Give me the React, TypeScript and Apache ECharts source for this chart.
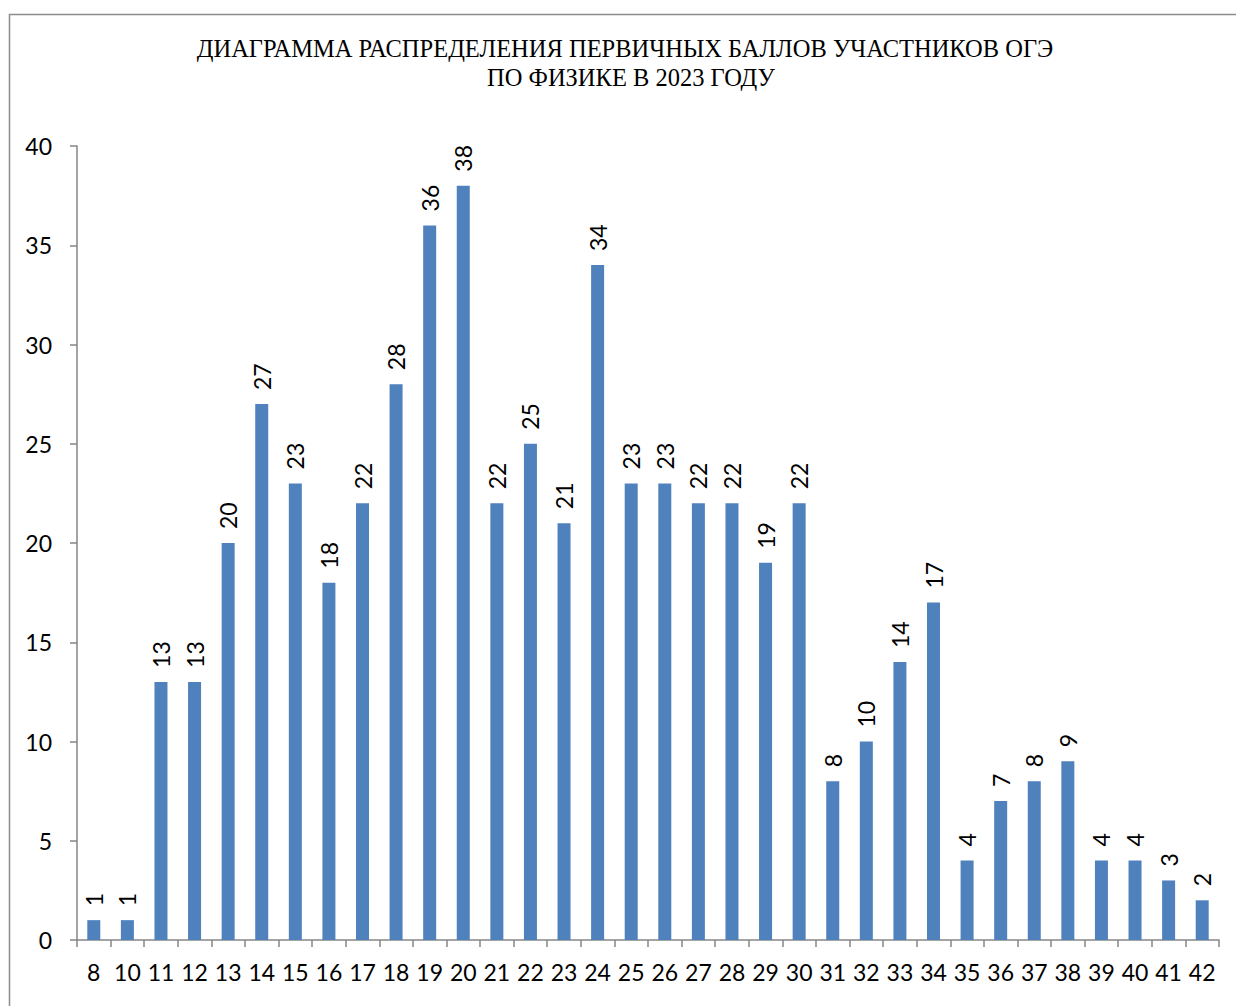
import React, { useEffect, useRef } from "react";
import * as echarts from "echarts";

const categories = ["8","10","11","12","13","14","15","16","17","18","19","20","21","22","23","24","25","26","27","28","29","30","31","32","33","34","35","36","37","38","39","40","41","42"];
const values = [1,1,13,13,20,27,23,18,22,28,36,38,22,25,21,34,23,23,22,22,19,22,8,10,14,17,4,7,8,9,4,4,3,2];
const titleLines = ["ДИАГРАММА РАСПРЕДЕЛЕНИЯ ПЕРВИЧНЫХ БАЛЛОВ УЧАСТНИКОВ ОГЭ", "ПО ФИЗИКЕ В 2023 ГОДУ"];

export default function App() {
  const ref = useRef<HTMLDivElement>(null);
  useEffect(() => {
    const chart = echarts.init(ref.current!, null, { renderer: "svg" });
    const labelFont = "Lato, 'Liberation Sans', sans-serif";
    chart.setOption({
      animation: false,
      backgroundColor: "#ffffff",
      graphic: [
        { type: "rect", shape: { x: 9.5, y: 14.5, width: 1400, height: 1200 }, style: { fill: "none", stroke: "#8c8c8c", lineWidth: 1.5 }, silent: true },
        { type: "text", x: 625, y: 48, style: { text: titleLines[0], font: "24.5px 'Liberation Serif', serif", fill: "#000", textAlign: "center", textVerticalAlign: "middle" } },
        { type: "text", x: 631, y: 77, style: { text: titleLines[1], font: "24.5px 'Liberation Serif', serif", fill: "#000", textAlign: "center", textVerticalAlign: "middle" } },
      ],
      grid: { left: 77, right: 17, top: 146, bottom: 66, containLabel: false },
      xAxis: {
        type: "category",
        data: categories,
        axisLine: { lineStyle: { color: "#868686", width: 1.5 } },
        axisTick: { show: true, length: 7, alignWithLabel: false, lineStyle: { color: "#868686", width: 1.5 } },
        axisLabel: { color: "#000", fontSize: 23, fontFamily: labelFont, margin: 20, interval: 0 },
      },
      yAxis: {
        type: "value",
        min: 0,
        max: 40,
        interval: 5,
        splitLine: { show: false },
        axisLine: { show: true, lineStyle: { color: "#868686", width: 1.5 } },
        axisTick: { show: true, length: 7, lineStyle: { color: "#868686", width: 1.5 } },
        axisLabel: { color: "#000", fontSize: 23, fontFamily: labelFont, margin: 25 },
      },
      series: [
        {
          type: "bar",
          data: values,
          barWidth: 13,
          itemStyle: { color: "#4F81BD" },
          label: {
            show: true,
            position: "top",
            rotate: 90,
            align: "left",
            verticalAlign: "middle",
            distance: 14,
            color: "#000",
            fontSize: 23,
            fontFamily: labelFont,
          },
        },
      ],
    });
    return () => chart.dispose();
  }, []);
  return <div ref={ref} style={{ position: "absolute", left: 0, top: 0, width: 1236, height: 1006 }} />;
}
